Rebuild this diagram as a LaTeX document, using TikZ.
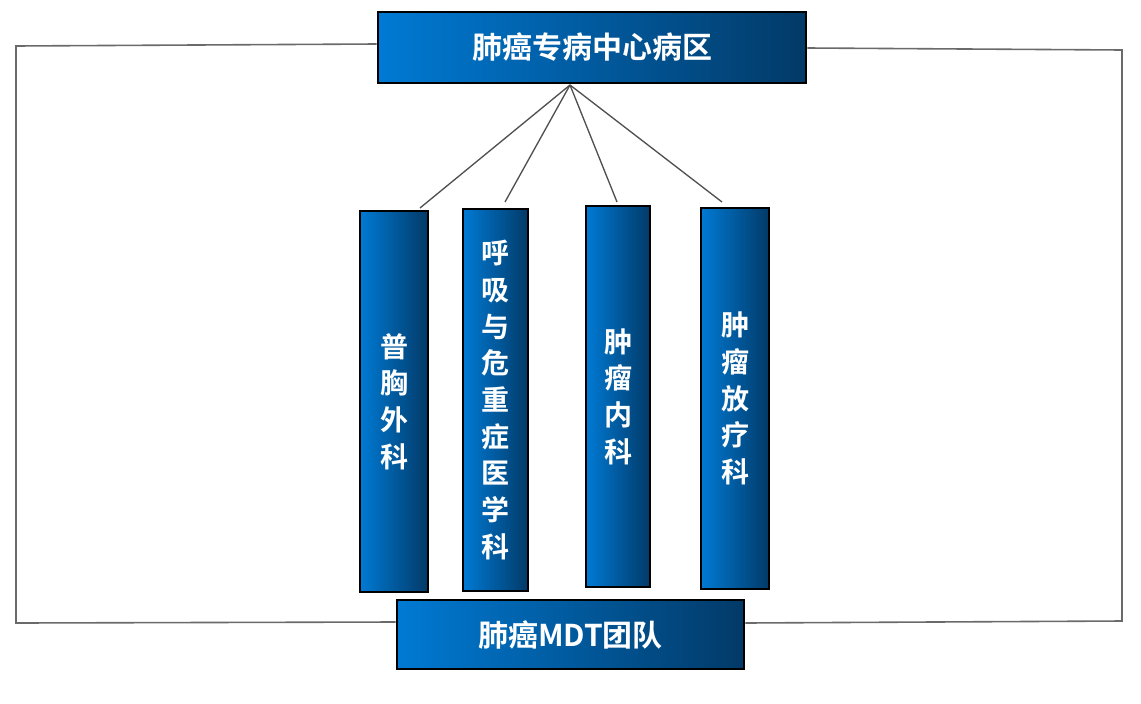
\documentclass[tikz,border=0pt]{standalone}
\usepackage{fontspec}
\newfontfamily\cjk{Noto Sans CJK SC}[BoldFont={* Bold}]
\definecolor{bluel}{RGB}{0,122,212}
\definecolor{blued}{RGB}{2,58,104}
\definecolor{linegray}{RGB}{80,80,80}
\tikzset{
  bluebox/.style={rectangle, draw=black, line width=1.9pt, left color=bluel, right color=blued,
    inner sep=0pt, text=white, font=\cjk\bfseries\fontsize{21pt}{27.5pt}\selectfont, align=center},
  hbox/.style={bluebox, font=\cjk\bfseries\fontsize{22.5pt}{27pt}\selectfont},
  conn/.style={draw=linegray, line width=1pt},
  frame/.style={draw=linegray!85, line width=1.2pt}
}
\begin{document}
\begin{tikzpicture}[x=0.75pt,y=-0.75pt]
\useasboundingbox (0,0) rectangle (1141,703);
\node[hbox, minimum width=321pt, minimum height=53.25pt] (top) at (592,47.5) {肺癌专病中心病区};
\node[hbox, minimum width=260.25pt, minimum height=51.75pt] (bot) at (570.5,634.5) {肺癌MDT团队};
\node[bluebox, minimum width=51pt, minimum height=285.75pt] (b1) at (394,401.5) {普\\胸\\外\\科};
\node[bluebox, minimum width=48.75pt, minimum height=286.5pt] (b2) at (495.5,400) {呼\\吸\\与\\危\\重\\症\\医\\学\\科};
\node[bluebox, minimum width=48pt, minimum height=285.75pt] (b3) at (618,396.5) {肿\\瘤\\内\\科};
\node[bluebox, minimum width=51pt, minimum height=285.75pt] (b4) at (735,398.5) {肿\\瘤\\放\\疗\\科};
% hub and free ends
\coordinate (hub) at (570,85);
\coordinate (e1) at (420,208);
\coordinate (e2) at (505,202);
\coordinate (e3) at (617,202);
\coordinate (e4) at (722,202);
\draw[conn] (hub) -- (e1);
\draw[conn] (hub) -- (e2);
\draw[conn] (hub) -- (e3);
\draw[conn] (hub) -- (e4);
% frame
\coordinate (tl) at (16,46);
\coordinate (bl) at (16,623);
\coordinate (tr) at (1122,50);
\coordinate (br) at (1122,621);
\draw[frame] (top.west |- 0,44) -- (tl) -- (bl) -- (bot.west |- 0,622);
\draw[frame] (top.east |- 0,48) -- (tr) -- (br) -- (bot.east |- 0,623);
\end{tikzpicture}
\end{document}
